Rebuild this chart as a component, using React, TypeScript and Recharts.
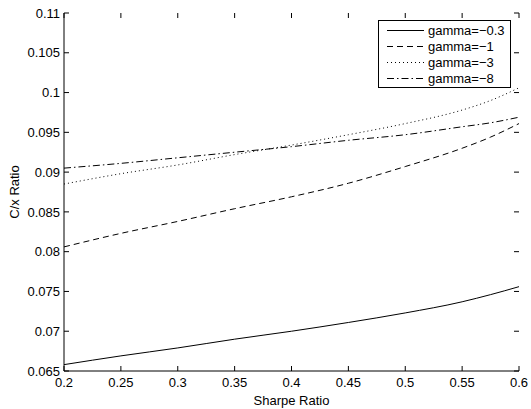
import React from "react";
import { LineChart, Line, XAxis, YAxis, Legend } from "recharts";

const sharpe = [0.2, 0.25, 0.3, 0.35, 0.4, 0.45, 0.5, 0.55, 0.575, 0.6];
const gamma03 = [0.0658, 0.0669, 0.0679, 0.069, 0.07, 0.0711, 0.0723, 0.0737, 0.0746, 0.0756];
const gamma1 = [0.0806, 0.0823, 0.0838, 0.0854, 0.0869, 0.0886, 0.0907, 0.093, 0.0944, 0.0961];
const gamma3 = [0.0885, 0.0898, 0.0909, 0.0922, 0.0934, 0.0947, 0.0961, 0.0978, 0.099, 0.1006];
const gamma8 = [0.0905, 0.0911, 0.0918, 0.0925, 0.0932, 0.094, 0.0947, 0.0957, 0.0962, 0.0969];

const xTicks = [0.2, 0.25, 0.3, 0.35, 0.4, 0.45, 0.5, 0.55, 0.6];
const yTicks = [0.065, 0.07, 0.075, 0.08, 0.085, 0.09, 0.095, 0.1, 0.105, 0.11];

const series = [
  { key: "g03", name: "gamma=−0.3", values: gamma03, dash: undefined as string | undefined },
  { key: "g1", name: "gamma=−1", values: gamma1, dash: "6 4" },
  { key: "g3", name: "gamma=−3", values: gamma3, dash: "1 3" },
  { key: "g8", name: "gamma=−8", values: gamma8, dash: "7 3 1.5 3" },
];

const data = sharpe.map((s, i) => {
  const row: Record<string, number> = { sharpe: s };
  series.forEach((ser) => {
    row[ser.key] = ser.values[i];
  });
  return row;
});

const FONT = '"Liberation Sans", Arial, sans-serif';
// plot box edges (matlab style box with inward ticks on all four sides)
const PLOT_TOP = 13;
const PLOT_RIGHT = 519;
const TICK_LEN = 5;

const BottomTick = (props: any) => {
  const { x, y, payload } = props;
  return (
    <g>
      <line x1={x} x2={x} y1={PLOT_TOP} y2={PLOT_TOP + TICK_LEN} stroke="#000" />
      <text x={x} y={y} dy="0.71em" textAnchor="middle" fontSize={13} fontFamily={FONT} fill="#000">
        {String(payload.value)}
      </text>
    </g>
  );
};

const LeftTick = (props: any) => {
  const { x, y, payload } = props;
  return (
    <g>
      <line x1={PLOT_RIGHT - TICK_LEN} x2={PLOT_RIGHT} y1={y} y2={y} stroke="#000" />
      <text x={x} y={y} dy="0.355em" textAnchor="end" fontSize={13} fontFamily={FONT} fill="#000">
        {String(payload.value)}
      </text>
    </g>
  );
};

const renderLegend = () => (
  <svg width={133} height={68} style={{ display: "block" }}>
    <rect x={0.5} y={0.5} width={132} height={67} fill="#fff" stroke="#000" />
    {series.map((s, i) => {
      const cy = 10.5 + i * 16;
      return (
        <g key={s.key}>
          <line x1={9} x2={46} y1={cy} y2={cy} stroke="#000" strokeWidth={1} strokeDasharray={s.dash} />
          <text x={50} y={cy + 4.5} fontSize={13} fontFamily={FONT} fill="#000">
            {s.name}
          </text>
        </g>
      );
    })}
  </svg>
);

export default function App() {
  return (
    <div style={{ position: "absolute", left: 0, top: 0, background: "#fff" }}>
      <LineChart
        width={531}
        height={409}
        data={data}
        margin={{ top: PLOT_TOP, right: 531 - PLOT_RIGHT, left: 0, bottom: 0 }}
        style={{ fontFamily: FONT }}
      >
        <XAxis
          dataKey="sharpe"
          type="number"
          domain={[0.2, 0.6]}
          ticks={xTicks}
          interval={0}
          height={38}
          stroke="#000"
          tickSize={-5}
          tickMargin={12}
          tick={<BottomTick />}
          label={{ value: "Sharpe Ratio", position: "insideBottom", offset: 4, fill: "#000", fontSize: 13, fontFamily: FONT }}
        />
        <YAxis
          type="number"
          domain={[0.065, 0.11]}
          ticks={yTicks}
          interval={0}
          width={64}
          stroke="#000"
          tickSize={-5}
          tickMargin={9}
          tick={<LeftTick />}
          label={{
            value: "C/x Ratio",
            position: "insideLeft",
            angle: -90,
            offset: 14,
            fill: "#000",
            fontSize: 13,
            fontFamily: FONT,
            style: { textAnchor: "middle" },
          }}
        />
        <Legend
          layout="vertical"
          align="center"
          verticalAlign="middle"
          content={renderLegend}
          wrapperStyle={{ position: "absolute", top: 20, left: 378, width: 133, height: 68 }}
        />
        {series.map((s) => (
          <Line
            key={s.key}
            dataKey={s.key}
            name={s.name}
            type="monotone"
            stroke="#000"
            strokeWidth={1}
            strokeDasharray={s.dash}
            dot={false}
            activeDot={false}
            isAnimationActive={false}
          />
        ))}
        {/* top and right edges of the box */}
        <XAxis xAxisId="top" orientation="top" height={0} stroke="#000" tick={false} tickLine={false} />
        <YAxis yAxisId="right" orientation="right" width={0} stroke="#000" tick={false} tickLine={false} />
      </LineChart>
    </div>
  );
}
